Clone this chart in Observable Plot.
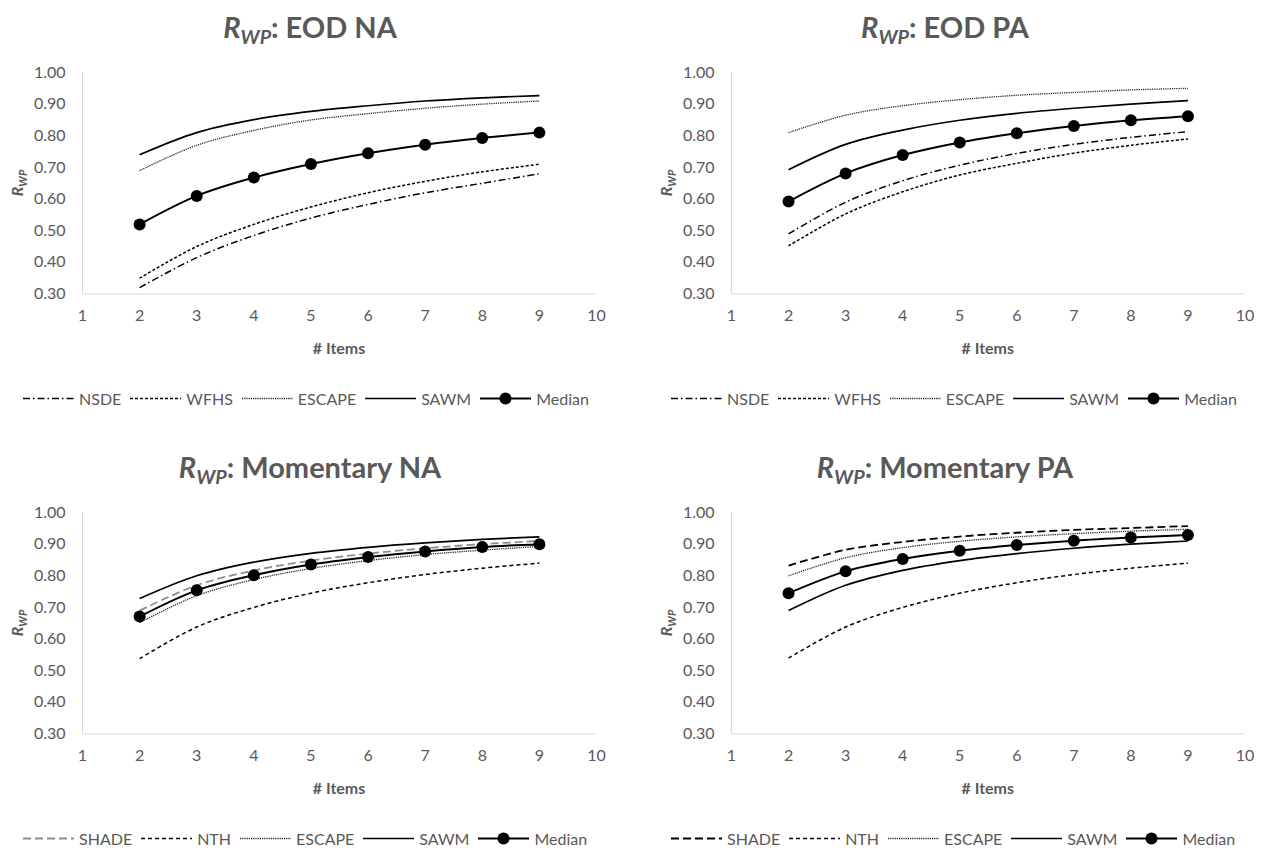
<!DOCTYPE html>
<html>
<head>
<meta charset="utf-8">
<script src="https://cdn.jsdelivr.net/npm/d3@7"></script>
<script src="https://cdn.jsdelivr.net/npm/@observablehq/plot@0.6"></script>
<style>
  html, body { margin: 0; padding: 0; background: #fff; }
  #root { position: relative; width: 1270px; height: 850px; background: #fff; overflow: hidden; font-family: Lato, "Noto Sans", sans-serif; color: #595959; }
  .abs { position: absolute; }
  .title { font-size: 29px; font-weight: 700; text-align: center; white-space: nowrap; line-height: 34px; }
  .title i sub, .ylab i sub { font-size: 0.68em; vertical-align: -0.3em; }
  .ylab { font-size: 16px; font-weight: 700; white-space: nowrap; transform: translate(-50%, -50%) rotate(-90deg); }
  .xlab { font-size: 16px; font-weight: 700; transform: translate(-50%, -50%); white-space: nowrap; }
  .legend { display: flex; align-items: center; font-size: 16px; white-space: nowrap; transform: translateY(-50%); }
  .legend .item { display: flex; align-items: center; margin-right: 9px; }
  .legend svg { margin-right: 5px; }
</style>
</head>
<body>
<div id="root"></div>
<script>
// ---------- data ----------
const items = [2, 3, 4, 5, 6, 7, 8, 9];
const xTicks = [1, 2, 3, 4, 5, 6, 7, 8, 9, 10];
const yTicks = [0.30, 0.40, 0.50, 0.60, 0.70, 0.80, 0.90, 1.00];

const panelTitles = ["EOD NA", "EOD PA", "Momentary NA", "Momentary PA"];
const eodSeries = ["NSDE", "WFHS", "ESCAPE", "SAWM", "Median"];
const momSeries = ["SHADE", "NTH", "ESCAPE", "SAWM", "Median"];

// EOD NA
const eodNA_NSDE   = [0.32, 0.415, 0.485, 0.54, 0.583, 0.62, 0.65, 0.68];
const eodNA_WFHS   = [0.35, 0.45, 0.52, 0.575, 0.62, 0.656, 0.686, 0.71];
const eodNA_ESCAPE = [0.69, 0.77, 0.817, 0.85, 0.87, 0.887, 0.90, 0.91];
const eodNA_SAWM   = [0.74, 0.81, 0.851, 0.877, 0.895, 0.91, 0.92, 0.927];
const eodNA_Median = [0.52, 0.61, 0.668, 0.711, 0.745, 0.772, 0.793, 0.81];

// EOD PA
const eodPA_NSDE   = [0.49, 0.59, 0.658, 0.707, 0.744, 0.773, 0.795, 0.813];
const eodPA_WFHS   = [0.452, 0.553, 0.623, 0.676, 0.713, 0.745, 0.77, 0.79];
const eodPA_ESCAPE = [0.81, 0.865, 0.895, 0.914, 0.928, 0.937, 0.945, 0.95];
const eodPA_SAWM   = [0.693, 0.773, 0.818, 0.849, 0.871, 0.887, 0.90, 0.911];
const eodPA_Median = [0.592, 0.681, 0.739, 0.779, 0.808, 0.831, 0.849, 0.862];

// Momentary NA
const momNA_SHADE  = [0.69, 0.77, 0.817, 0.848, 0.87, 0.887, 0.90, 0.91];
const momNA_NTH    = [0.538, 0.638, 0.70, 0.745, 0.778, 0.804, 0.824, 0.84];
const momNA_ESCAPE = [0.652, 0.737, 0.788, 0.823, 0.848, 0.867, 0.881, 0.893];
const momNA_SAWM   = [0.728, 0.80, 0.843, 0.871, 0.89, 0.904, 0.915, 0.923];
const momNA_Median = [0.671, 0.754, 0.802, 0.836, 0.859, 0.877, 0.891, 0.90];

// Momentary PA
const momPA_SHADE  = [0.832, 0.882, 0.907, 0.924, 0.936, 0.945, 0.951, 0.957];
const momPA_NTH    = [0.54, 0.638, 0.70, 0.745, 0.778, 0.804, 0.824, 0.84];
const momPA_ESCAPE = [0.80, 0.857, 0.889, 0.909, 0.923, 0.933, 0.941, 0.947];
const momPA_SAWM   = [0.69, 0.77, 0.817, 0.848, 0.87, 0.887, 0.90, 0.91];
const momPA_Median = [0.745, 0.814, 0.853, 0.879, 0.897, 0.911, 0.921, 0.929];

const panelValues = [
  [eodNA_NSDE, eodNA_WFHS, eodNA_ESCAPE, eodNA_SAWM, eodNA_Median],
  [eodPA_NSDE, eodPA_WFHS, eodPA_ESCAPE, eodPA_SAWM, eodPA_Median],
  [momNA_SHADE, momNA_NTH, momNA_ESCAPE, momNA_SAWM, momNA_Median],
  [momPA_SHADE, momPA_NTH, momPA_ESCAPE, momPA_SAWM, momPA_Median]
];
const panelNames = [eodSeries, eodSeries, momSeries, momSeries];

// ---------- styles ----------
const baseStyles = {
  NSDE:   { dash: "7,3,1.5,3", width: 1.5, color: "#000" },
  WFHS:   { dash: "3,2", width: 1.5, color: "#000" },
  NTH:    { dash: "4,3", width: 1.5, color: "#000" },
  ESCAPE: { dash: "1.2,1", width: 1.3, color: "#222" },
  SAWM:   { dash: null, width: 1.7, color: "#000" },
  Median: { dash: null, width: 2, color: "#000", dot: true },
  SHADE:  { dash: "8,4", width: 1.8, color: "#000" }
};
const shadeColors = [null, null, "#8c8c8c", "#000"];

// ---------- layout ----------
const layout = [
  { left: 0,   top: 50,  ml: 82, mr: 39,   legendLeft: 23 },
  { left: 635, top: 50,  ml: 96, mr: 25.5, legendLeft: 36 },
  { left: 0,   top: 490, ml: 82, mr: 39,   legendLeft: 23 },
  { left: 635, top: 490, ml: 96, mr: 25.5, legendLeft: 36 }
];
const W = 635, H = 310, MT = 22, MB = 66.5;

const root = document.getElementById("root");

function styleFor(name, p) {
  const s = Object.assign({}, baseStyles[name]);
  if (name === "SHADE") s.color = shadeColors[p];
  return s;
}

function swatch(s) {
  const ns = "http://www.w3.org/2000/svg";
  const svg = document.createElementNS(ns, "svg");
  svg.setAttribute("width", 51); svg.setAttribute("height", 14);
  const line = document.createElementNS(ns, "line");
  line.setAttribute("x1", 0); line.setAttribute("x2", 51);
  line.setAttribute("y1", 7); line.setAttribute("y2", 7);
  line.setAttribute("stroke", s.color);
  line.setAttribute("stroke-width", s.width);
  if (s.dash) line.setAttribute("stroke-dasharray", s.dash);
  svg.appendChild(line);
  if (s.dot) {
    const c = document.createElementNS(ns, "circle");
    c.setAttribute("cx", 25.5); c.setAttribute("cy", 7); c.setAttribute("r", 6);
    c.setAttribute("fill", "#000");
    svg.appendChild(c);
  }
  return svg;
}

panelTitles.forEach((title, p) => {
  const L = layout[p];
  const names = panelNames[p];
  const rows = [];
  names.forEach((name, si) => {
    panelValues[p][si].forEach((v, i) => rows.push({ series: name, items: items[i], value: v }));
  });

  const lineMarks = names.map(name => {
    const s = styleFor(name, p);
    return Plot.line(rows.filter(d => d.series === name), {
      x: "items", y: "value", curve: "catmull-rom",
      stroke: s.color, strokeWidth: s.width,
      strokeDasharray: s.dash || undefined,
      strokeLinecap: "butt"
    });
  });

  const chart = Plot.plot({
    width: W, height: H,
    marginLeft: L.ml, marginRight: L.mr, marginTop: MT, marginBottom: MB,
    style: { fontFamily: "Lato, 'Noto Sans', sans-serif", fontSize: "16px", color: "#595959", background: "transparent", overflow: "visible" },
    x: { domain: [1, 10] },
    y: { domain: [0.3, 1.0] },
    marks: [
      Plot.ruleY([0.3], { stroke: "#d9d9d9", strokeWidth: 1.2 }),
      Plot.ruleX([1], { stroke: "#d9d9d9", strokeWidth: 1.2 }),
      Plot.axisX({ ticks: xTicks, tickSize: 0, tickPadding: 16, label: null, fontSize: 16 }),
      Plot.axisY({ ticks: yTicks, tickSize: 0, tickPadding: 17, tickFormat: d3.format(".2f"), label: null, fontSize: 16 }),
      ...lineMarks,
      Plot.dot(rows.filter(d => d.series === "Median"), { x: "items", y: "value", r: 6, fill: "#000", stroke: "none" })
    ]
  });
  chart.style.position = "absolute";
  chart.style.left = L.left + "px";
  chart.style.top = L.top + "px";
  root.appendChild(chart);

  // title
  const t = document.createElement("div");
  t.className = "abs title";
  t.style.left = (L.left) + "px";
  t.style.width = "620px";
  t.style.top = (L.top - 23 - 17) + "px";
  t.innerHTML = '<i>R<sub>WP</sub></i>: ' + title;
  root.appendChild(t);

  // y label
  const plotTop = L.top + MT, plotBottom = L.top + H - MB;
  const yl = document.createElement("div");
  yl.className = "abs ylab";
  yl.style.left = (L.left + L.ml - 64) + "px";
  yl.style.top = ((plotTop + plotBottom) / 2) + "px";
  yl.innerHTML = '<i>R<sub>WP</sub></i>';
  root.appendChild(yl);

  // x label
  const xl = document.createElement("div");
  xl.className = "abs xlab";
  xl.style.left = (L.left + (L.ml + W - L.mr) / 2) + "px";
  xl.style.top = (L.top + 297) + "px";
  xl.textContent = "# Items";
  root.appendChild(xl);

  // legend
  const lg = document.createElement("div");
  lg.className = "abs legend";
  lg.style.left = (L.left + L.legendLeft) + "px";
  lg.style.top = (L.top + 348) + "px";
  names.forEach(name => {
    const it = document.createElement("div");
    it.className = "item";
    it.appendChild(swatch(styleFor(name, p)));
    const sp = document.createElement("span");
    sp.textContent = name;
    it.appendChild(sp);
    lg.appendChild(it);
  });
  root.appendChild(lg);
});
</script>
</body>
</html>
